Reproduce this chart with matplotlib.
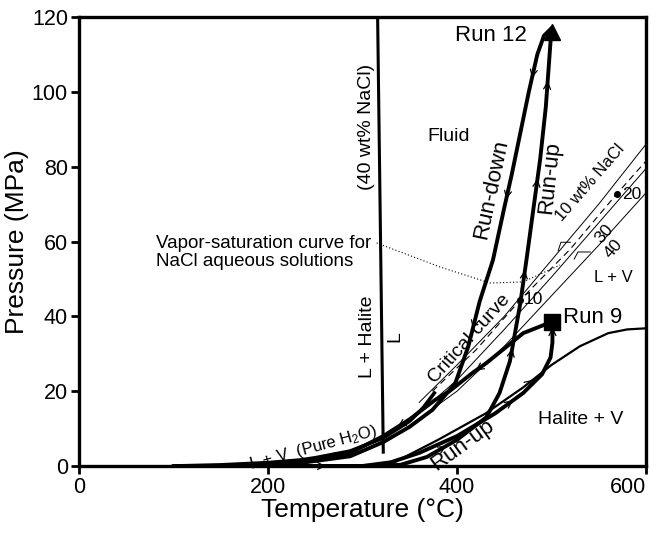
import matplotlib
matplotlib.use('Agg')
import matplotlib.pyplot as plt
import numpy as np

plt.rcParams['font.family'] = ['Liberation Sans', 'DejaVu Sans']
plt.rcParams['mathtext.fontset'] = 'custom'
plt.rcParams['mathtext.rm'] = 'Liberation Sans'
plt.rcParams['mathtext.it'] = 'Liberation Sans'

# ---- data (T in degC, P in MPa) ----
h2o_T = [100, 150, 200, 234, 250, 287, 322, 350, 364, 376]
h2o_P = [0, 0.3, 0.9, 1.6, 2.2, 4.0, 7.5, 12.0, 15.5, 19.5]

halite_T = [316, 322]
halite_P = [120, 3.7]

hv_T = [330, 380, 430, 470, 500, 530, 560, 580, 600]
hv_P = [0.5, 7, 14, 21, 27, 32, 35.5, 36.5, 36.8]

crit_T = [374, 420, 467, 520, 569, 600]
crit_P = [20, 31, 44.4, 58, 72.7, 81.5]

wt10_T = [360, 400, 450, 500, 550, 600]
wt10_P = [17, 27, 40, 55, 70, 86]
wt30_T = [350, 400, 450, 500, 550, 600]
wt30_P = [12, 23, 36.5, 50.5, 65, 79.5]
wt40_T = [340, 400, 450, 500, 550, 600]
wt40_P = [9, 20, 32, 45.5, 59, 73]

# small bracket marks next to the 10 / 30 labels
brk1_T = [507, 510, 520]
brk1_P = [57.5, 59.8, 59.8]
brk2_T = [524, 528, 541]
brk2_P = [55.3, 57.2, 57.2]

vap_T = [315, 382, 435, 470, 509]
vap_P = [59.6, 53.2, 48.9, 49.2, 53.7]

r12_up_T = [100, 300, 340, 368, 400, 431, 445, 456, 461, 467, 474, 481, 488, 494, 498, 500]
r12_up_P = [0, 0, 0.3, 2.4, 7, 13, 19.5, 28, 35, 43.5, 56, 69, 82, 96, 110, 117]
r12_dn_T = [500, 492, 485, 476, 467, 458, 450, 438, 424, 412, 398, 374, 350, 322, 287, 234, 170]
r12_dn_P = [117, 115, 110, 100, 89, 78, 69, 55, 44, 32, 22, 15, 10.5, 6.4, 2.6, 0.8, 0]

r9_up_T = [100, 300, 330, 360, 400, 440, 470, 490, 499, 501, 501]
r9_up_P = [0, 0, 1, 3.5, 8, 14, 19.5, 24.5, 29, 33, 38.5]
r9_dn_T = [500, 490, 470, 453, 431, 417, 392, 376, 350, 322, 287, 250, 200, 150]
r9_dn_P = [38.5, 37.5, 35.5, 32, 27.5, 25, 20, 17.5, 12.5, 8, 3.5, 1.5, 0.5, 0]

crit_dots_T = [467, 569]
crit_dots_P = [44.4, 72.7]

fig = plt.figure(figsize=(6.56, 5.38), dpi=100)
ax = fig.add_axes([79/656, 1-466/538, (646-79)/656, (466-17)/538])
ax.set_xlim(0, 600)
ax.set_ylim(0, 120)
ax.set_xticks([0, 200, 400, 600])
ax.set_yticks(range(0, 121, 20))
ax.tick_params(direction='out', length=6, width=2, labelsize=15.5, pad=2)
ax.get_xticklabels()[-1].set_ha('right')
for s in ax.spines.values():
    s.set_linewidth(2.4)
ax.set_xlabel('Temperature (°C)', fontsize=19, labelpad=0)
ax.set_ylabel('Pressure (MPa)', fontsize=19, labelpad=2)

k = 'black'
ax.plot(wt10_T, wt10_P, color=k, lw=0.7)
ax.plot(wt30_T, wt30_P, color=k, lw=0.7)
ax.plot(wt40_T, wt40_P, color=k, lw=0.7)
ax.plot(brk1_T, brk1_P, color=k, lw=0.7)
ax.plot(brk2_T, brk2_P, color=k, lw=0.7)
ax.plot(crit_T, crit_P, color=k, lw=0.8, ls=(0, (6, 4)))
ax.plot(vap_T, vap_P, color=k, lw=0.8, ls=(0, (1, 2)))
ax.plot(hv_T, hv_P, color=k, lw=1.6)
ax.plot(h2o_T, h2o_P, color=k, lw=2.6)
ax.plot(halite_T, halite_P, color=k, lw=2.2)
for T, P in [(r12_up_T, r12_up_P), (r12_dn_T, r12_dn_P), (r9_up_T, r9_up_P), (r9_dn_T, r9_dn_P)]:
    ax.plot(T, P, color=k, lw=2.8, solid_capstyle='round', solid_joinstyle='round')

ax.plot(crit_dots_T, crit_dots_P, 'o', color=k, ms=4)
ax.plot(r12_up_T[-1], r12_up_P[-1] - 1, '^', color=k, ms=12)
ax.plot(r9_up_T[-1], r9_up_P[-1], 's', color=k, ms=11)


def chevron(xs, ys, i, t=0.5):
    p0 = ax.transData.transform((xs[i], ys[i]))
    p1 = ax.transData.transform((xs[i + 1], ys[i + 1]))
    d = (p1 - p0) / np.hypot(*(p1 - p0))
    c = p0 + t * (p1 - p0)
    inv = ax.transData.inverted()
    a = inv.transform(c - 5 * d)
    b = inv.transform(c + 5 * d)
    ax.annotate('', xy=b, xytext=a,
                arrowprops=dict(arrowstyle='->,head_length=0.5,head_width=0.25',
                                lw=0.9, color=k, shrinkA=0, shrinkB=0))


chevron(r12_up_T, r12_up_P, 13, 0.4)
chevron(r12_up_T, r12_up_P, 11, 0.5)
chevron(r12_up_T, r12_up_P, 9, 0.6)
chevron(r12_up_T, r12_up_P, 7, 0.3)
chevron(r12_up_T, r12_up_P, 3, 0.5)
chevron(r12_dn_T, r12_dn_P, 2, 0.5)
chevron(r12_dn_T, r12_dn_P, 5, 0.6)
chevron(r12_dn_T, r12_dn_P, 8, 0.5)
chevron(r9_dn_T, r9_dn_P, 4, 0.5)
chevron(r9_dn_T, r9_dn_P, 8, 0.3)
chevron(r9_dn_T, r9_dn_P, 10, 0.5)
chevron(r9_up_T, r9_up_P, 0, 0.78)
chevron(r9_up_T, r9_up_P, 5, 0.5)
chevron(r9_up_T, r9_up_P, 9, 0.5)
chevron(hv_T, hv_P, 3, 0.2)

fs = 14
ax.text(436, 115, 'Run 12', fontsize=16, ha='center', va='center')
ax.text(391, 88, 'Fluid', fontsize=fs, ha='center', va='center')
ax.text(304, 90.6, '(40 wt% NaCl)', fontsize=fs, rotation=90, ha='center', va='center')
ax.text(305, 34.5, 'L + Halite', fontsize=fs, rotation=90, ha='center', va='center')
ax.text(334, 34.5, 'L', fontsize=fs, rotation=90, ha='center', va='center')
ax.text(436, 74, 'Run-down', fontsize=16, rotation=78, ha='center', va='center')
ax.text(498, 77, 'Run-up', fontsize=16, rotation=84, ha='center', va='center')
ax.text(541, 75.6, '10 wt% NaCl', fontsize=12, rotation=49, ha='center', va='center')
ax.text(556, 62.0, '30', fontsize=12.5, rotation=49, ha='center', va='center')
ax.text(566, 58.0, '40', fontsize=12.5, rotation=49, ha='center', va='center')
ax.text(585, 72.5, '20', fontsize=12.5, ha='center', va='center')
ax.text(481, 44.4, '10', fontsize=12.5, ha='center', va='center')
ax.text(566, 50.5, 'L + V', fontsize=12, ha='center', va='center')
ax.text(544, 39.8, 'Run 9', fontsize=16, ha='center', va='center')
ax.text(531, 12.3, 'Halite + V', fontsize=fs, ha='center', va='center')
ax.text(406, 5.5, 'Run-up', fontsize=16, rotation=36, ha='center', va='center')
ax.text(413, 34, 'Critical curve', fontsize=fs, rotation=48, ha='center', va='center')
ax.text(248, 4.8, 'L + V  (Pure H$_2$O)', fontsize=12, rotation=15, ha='center', va='center')
ax.text(82, 57, 'Vapor-saturation curve for\nNaCl aqueous solutions', fontsize=13.5,
        ha='left', va='center', linespacing=1.1)

fig.savefig('out.png', dpi=100)
